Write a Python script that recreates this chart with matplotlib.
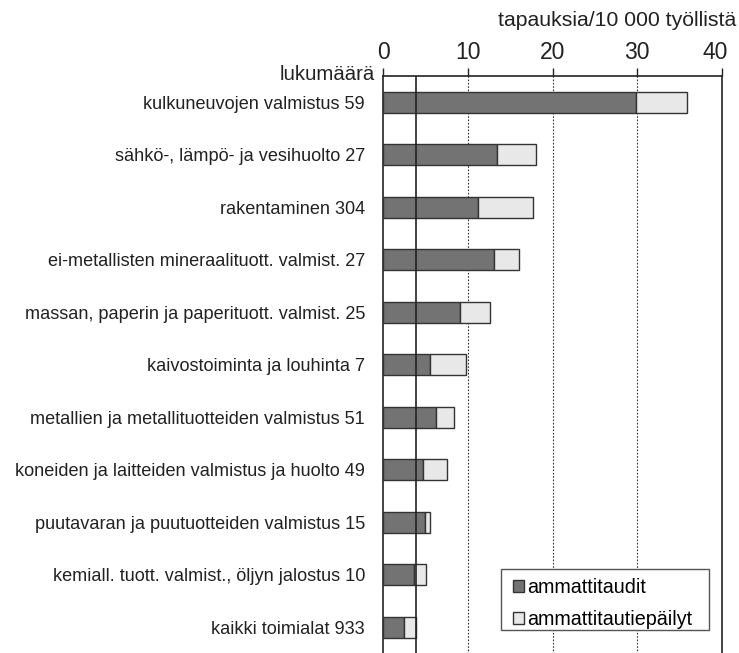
import matplotlib.pyplot as plt
from matplotlib.patches import Rectangle
from matplotlib.transforms import ScaledTranslation

plt.rcParams['font.family'] = ['Liberation Sans', 'DejaVu Sans']

labels = ['kulkuneuvojen valmistus 59',
          'sähkö-, lämpö- ja vesihuolto 27',
          'rakentaminen 304',
          'ei-metallisten mineraalituott. valmist. 27',
          'massan, paperin ja paperituott. valmist. 25',
          'kaivostoiminta ja louhinta 7',
          'metallien ja metallituotteiden valmistus 51',
          'koneiden ja laitteiden valmistus ja huolto 49',
          'puutavaran ja puutuotteiden valmistus 15',
          'kemiall. tuott. valmist., öljyn jalostus 10',
          'kaikki toimialat 933']
taudit = [29.8, 13.4, 11.2, 13.1, 9.1, 5.6, 6.3, 4.7, 4.9, 3.6, 2.5]
epailyt = [6.1, 4.7, 6.5, 3.0, 3.5, 4.2, 2.1, 2.8, 0.7, 1.5, 1.4]
xticks = [0, 10, 20, 30, 40]

W, H = 739, 653
fig = plt.figure(figsize=(W / 100, H / 100), dpi=100)
ax = fig.add_axes([0.5183, -0.001, 0.4587, 0.8846])

y = range(len(labels))
ax.barh(y, taudit, height=0.4, color='#737373', edgecolor='#333333',
        linewidth=1.0, label='ammattitaudit', zorder=3)
ax.barh(y, epailyt, left=taudit, height=0.4, color='#e8e8e8',
        edgecolor='#333333', linewidth=1.0, label='ammattitautiepäilyt', zorder=3)

# keskiarvoviiva = kaikki toimialat yhteensä
ax.axvline(taudit[-1] + epailyt[-1], color='#222222', linewidth=1.2, zorder=4)

ax.set_xlim(0, 40)
ax.set_ylim(len(labels) - 0.5, -0.5)
ax.set_xticks(xticks)
ax.xaxis.tick_top()
ax.tick_params(axis='x', direction='out', length=6, width=1, labelsize=16.5,
               pad=3, color='#222222', labelcolor='#222222')
ax.set_yticks(list(y))
ax.set_yticklabels(labels, fontsize=13.1, color='#222222')
ax.tick_params(axis='y', length=0, pad=13)
for x in xticks[1:-1]:
    ax.axvline(x, color='#333333', linewidth=0.8, linestyle=(0, (1.5, 1.5)), zorder=1)

# last tick label sits a bit left so it fits in the picture
last = ax.xaxis.get_major_ticks()[-1].label2
last.set_transform(last.get_transform() + ScaledTranslation(-0.07, 0, fig.dpi_scale_trans))

for s in ['left', 'top', 'right']:
    ax.spines[s].set_color('#222222')
    ax.spines[s].set_linewidth(1.2)
ax.spines['bottom'].set_visible(False)

fig.text(0.996, 0.969, 'tapauksia/10 000 työllistä', ha='right', va='center',
         fontsize=15.3, color='#222222')
fig.text(0.507, 0.886, 'lukumäärä', ha='right', va='center',
         fontsize=14.7, color='#222222')

# legend frame drawn separately for exact padding
ax.add_patch(Rectangle((501 / W, 1 - 630 / H), 208 / W, 61 / H,
                       transform=fig.transFigure, facecolor='white',
                       edgecolor='#555555', linewidth=1.0, zorder=5,
                       clip_on=False))
leg = ax.legend(loc='upper left', bbox_to_anchor=(513 / W, 1 - 578 / H),
                bbox_transform=fig.transFigure, fontsize=14.2, frameon=False,
                handlelength=0.55, handleheight=0.55, handletextpad=0.15,
                borderpad=0, labelspacing=0.65, borderaxespad=0)
leg.set_zorder(6)

fig.savefig('out.png', dpi=100)
